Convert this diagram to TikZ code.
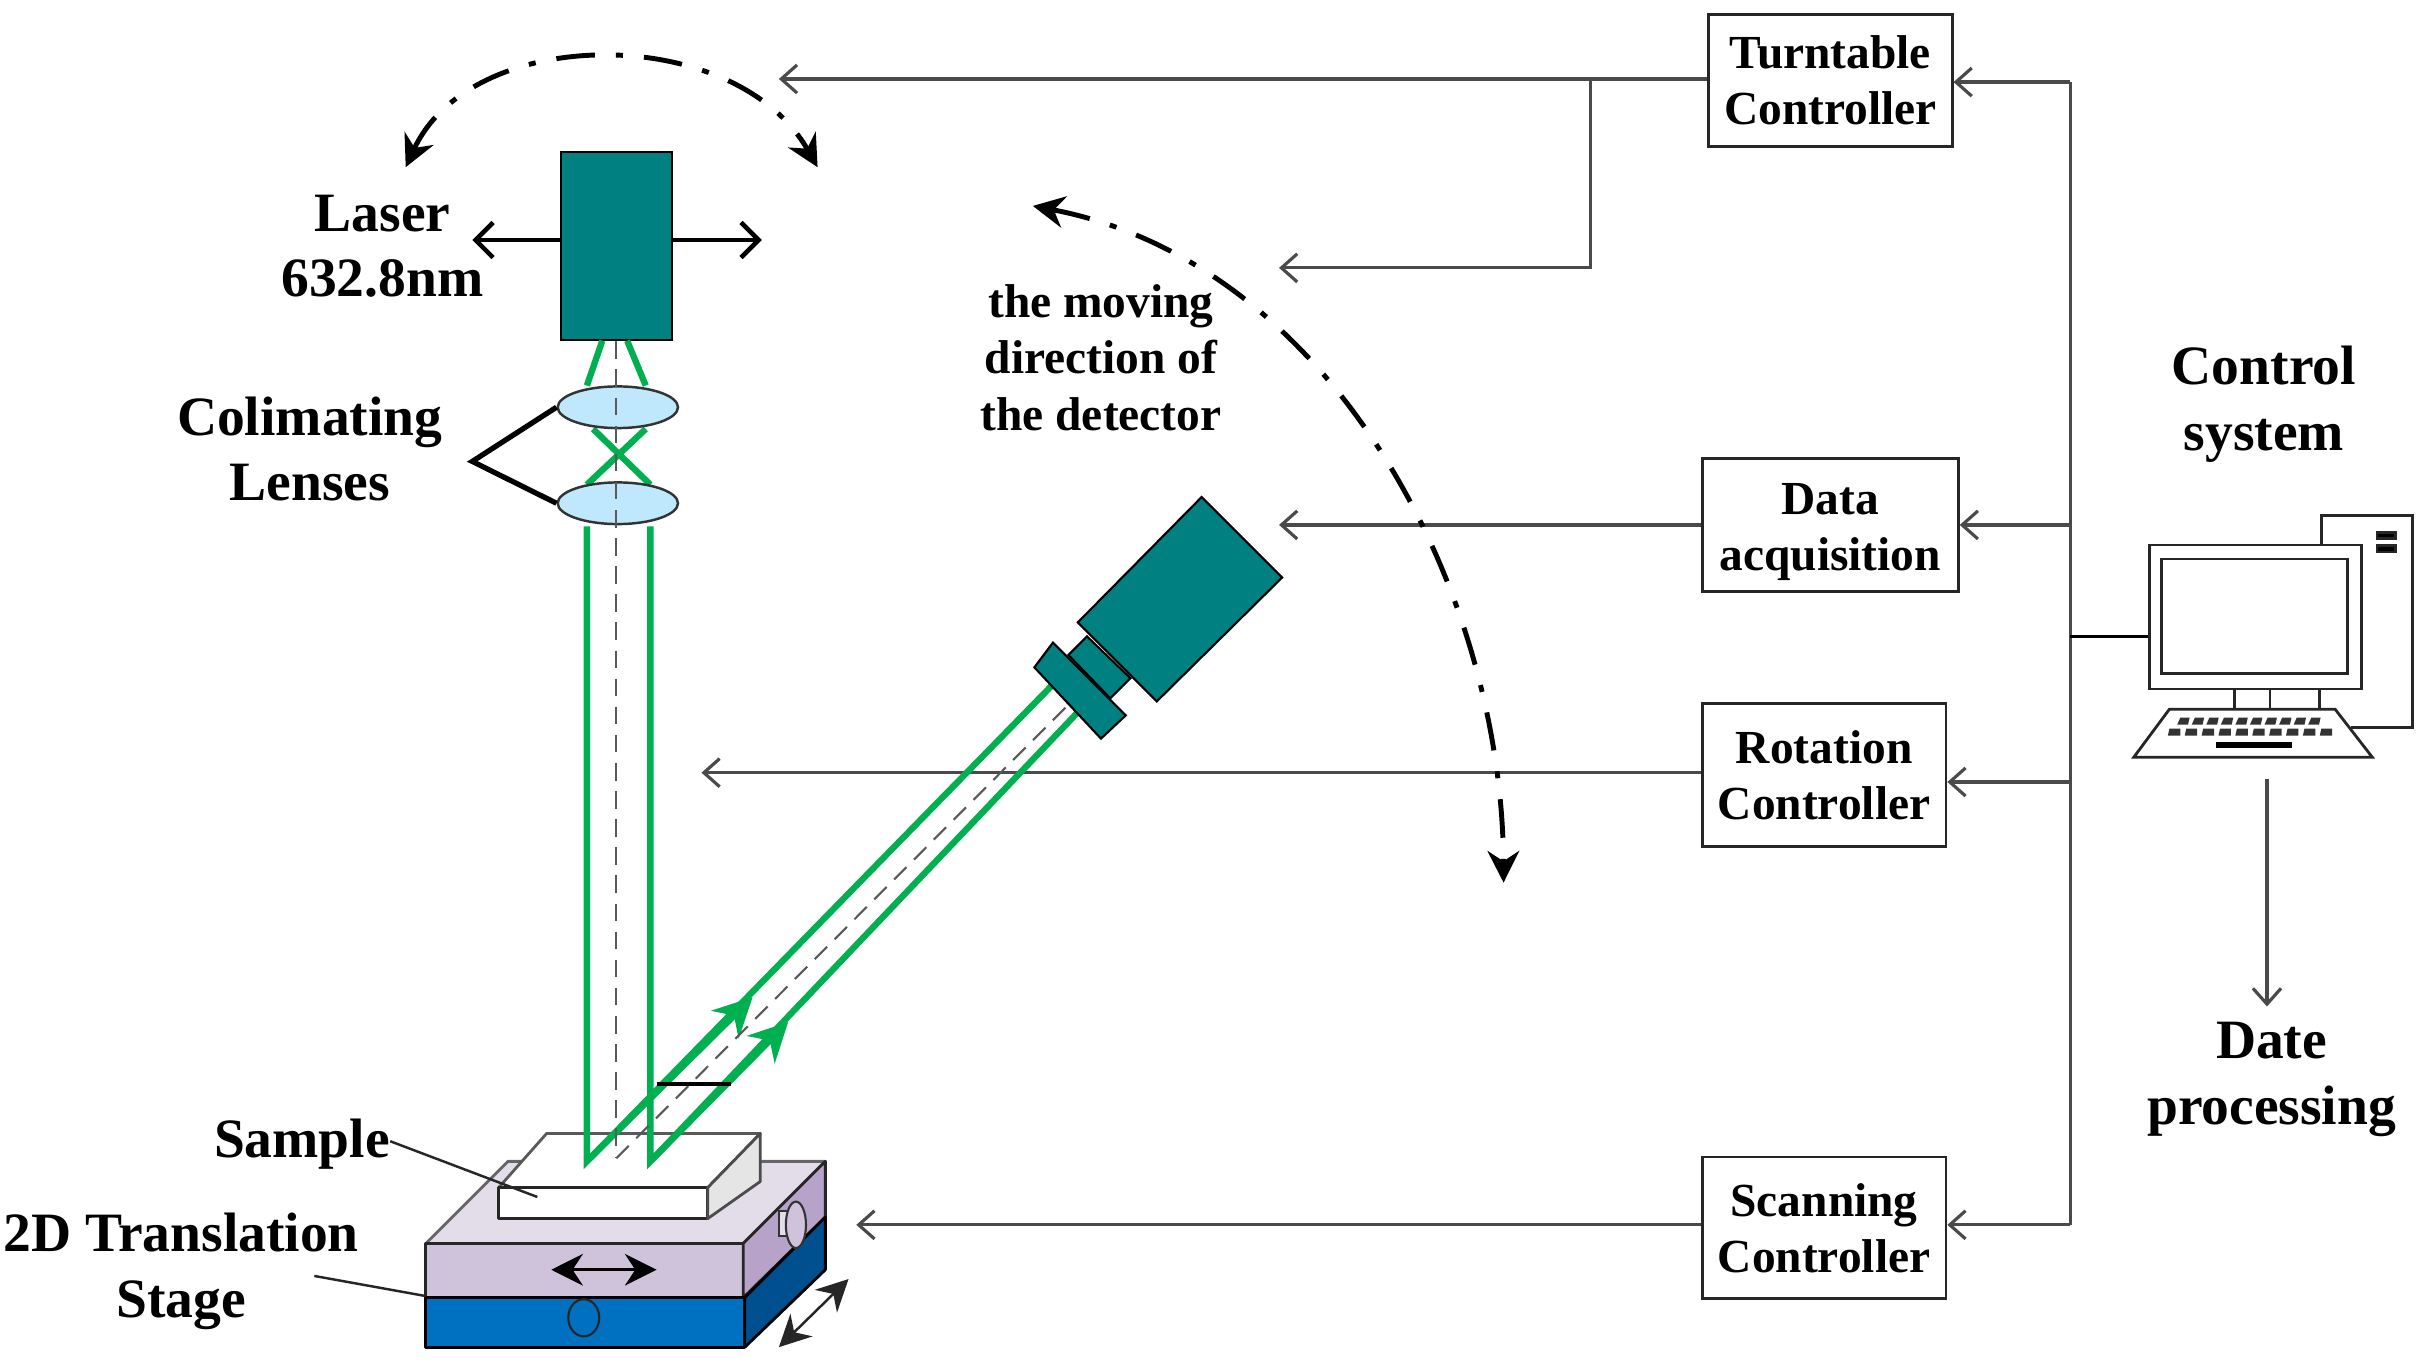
\documentclass[tikz,border=0pt]{standalone}
\usepackage{fontspec}
\setmainfont{Liberation Serif}
\usetikzlibrary{arrows.meta, shapes.geometric}
\definecolor{teal1}{HTML}{008080}
\definecolor{beam}{HTML}{00B050}
\definecolor{lens}{HTML}{BFE8FD}
\definecolor{wire}{HTML}{4A4A4A}
\definecolor{stagetop}{HTML}{E3DDEA}
\definecolor{stagefront}{HTML}{CFC3DB}
\definecolor{stageside}{HTML}{B7A3C9}
\definecolor{basefront}{HTML}{0070C0}
\definecolor{baseside}{HTML}{00508F}
\tikzset{
  ctrl/.style={draw=black!85, line width=0.8pt, fill=white, align=center, inner sep=0pt, font=\fontsize{13.5}{16}\selectfont\bfseries},
  lab/.style={align=center, inner sep=0pt, font=\fontsize{15.8}{18.6}\selectfont\bfseries},
  small/.style={align=center, inner sep=0pt, font=\fontsize{13.5}{16}\selectfont\bfseries},
  wire/.style={draw=wire, line width=0.9pt},
  sig/.style={wire, -{Straight Barb[length=4.5pt,width=8pt]}},
  green/.style={draw=beam, line width=1.8pt},
  axis/.style={draw=black!65, line width=0.6pt, dash pattern=on 5pt off 3pt},
  sweep/.style={draw=black, line width=1.4pt, dash pattern=on 11pt off 6pt on 2pt off 6pt, {Stealth[length=9pt,width=9pt]}-{Stealth[length=9pt,width=9pt]}},
  body/.style={draw=black, line width=0.6pt, fill=teal1},
  face/.style={draw=black!85, line width=0.8pt, line join=round},
  pc/.style={draw=black!85, line width=0.8pt, fill=white},
  head/.style={draw=beam, line width=1.8pt, -{Stealth[length=11pt,width=11pt]}}
}
\begin{document}
\begin{tikzpicture}[x=0.015484cm, y=-0.015484cm]
\useasboundingbox (0,0) rectangle (1568,879);

% controller boxes
\node[ctrl, minimum width=158*0.4389pt, minimum height=86*0.4389pt] (turn) at (1182,52) {Turntable\\Controller};
\node[ctrl, minimum width=166*0.4389pt, minimum height=86*0.4389pt] (data) at (1182,339) {\rule{0pt}{12.7pt}Data\\acquisition};
\node[ctrl, minimum width=158*0.4389pt, minimum height=93*0.4389pt] (rot) at (1178,500.5) {Rotation\\Controller};
\node[ctrl, minimum width=158*0.4389pt, minimum height=92*0.4389pt] (scan) at (1178,793) {Scanning\\Controller};

% bus on the right and signal lines
\coordinate (b1) at (1337,53);
\coordinate (b2) at (1337,339);
\coordinate (b3) at (1337,505);
\coordinate (b4) at (1337,791);
\coordinate (b5) at (1337,411);
\coordinate (m5) at (1390,411);
\draw[wire] (b1) -- (b4);
\draw[sig] (b1) -- (turn.east |- b1);
\draw[sig] (b2) -- (data.east |- b2);
\draw[sig] (b3) -- (rot.east |- b3);
\draw[sig] (b4) -- (scan.east |- b4);
\draw[draw=black, line width=0.8pt] (b5) -- (m5);

\coordinate (t1) at (503,51);
\coordinate (t2) at (1027,51);
\coordinate (t3) at (1027,173);
\coordinate (t4) at (826,173);
\coordinate (d1) at (826,339);
\coordinate (r1) at (453,499);
\coordinate (s1) at (553,791);
\draw[sig] (turn.west |- t1) -- (t1);
\draw[sig] (t2) -- (t3) -- (t4);
\draw[sig] (data.west) -- (d1);
\draw[sig] (rot.west |- r1) -- (r1);
\draw[sig] (scan.west |- s1) -- (s1);

% sweep directions
\draw[sweep] (262,108) .. controls (305,15) and (475,15) .. (528,108);
\draw[sweep] (667,133) .. controls (860,170) and (970,380) .. (971,570);

% stage
\filldraw[face, draw=black!60, fill=stagetop] (275,803) -- (328,750) -- (533,750) -- (480,803) -- cycle;
\filldraw[face, fill=stagefront] (275,803) rectangle (480,838);
\filldraw[face, fill=stageside] (480,803) -- (533,750) -- (533,786) -- (480,838) -- cycle;
\filldraw[face, draw=black, fill=basefront] (275,838) rectangle (481,870);
\filldraw[face, draw=black, fill=baseside] (481,838) -- (533,786) -- (533,820) -- (481,870) -- cycle;
\draw[black!85, line width=0.6pt] (377,851) ellipse (10 and 12);
\filldraw[draw=black!80, line width=0.5pt, fill=stagetop] (503,782) rectangle (510,798);
\filldraw[draw=black!80, line width=0.6pt, fill=stagefront] (514,791) ellipse (6.5 and 15);
\draw[line width=0.8pt, {Stealth[length=9pt,width=9pt]}-{Stealth[length=9pt,width=9pt]}] (356,820) -- (424,820);
\draw[black!85, line width=0.7pt, {Stealth[length=9pt,width=9pt]}-{Stealth[length=9pt,width=9pt]}] (503,870) -- (548,826);

% sample
\filldraw[face, draw=black!65, fill=white] (322,767) -- (353,732) -- (491,732) -- (457,767) -- cycle;
\filldraw[face, fill=white] (322,767) rectangle (457,787);
\filldraw[face, draw=black!70, fill=black!10] (457,767) -- (491,732) -- (491,763) -- (457,787) -- cycle;

% beams
\coordinate (v1) at (379,750);
\coordinate (v2) at (420,750);
\coordinate (v3) at (398,748);
\draw[green] (379,340) -- (v1) -- (679,443);
\draw[green] (420,340) -- (v2) -- (696,460);
\draw[head] (v1) -- (486,644);
\draw[head] (v2) -- (509,660);
\draw[axis] (v3) -- (690,455);
\draw[line width=0.9pt] (424,700) -- (472,700);

% laser
\node[body, minimum width=72*0.4389pt, minimum height=122*0.4389pt, inner sep=0pt] (laser) at (398,159) {};
\draw[green] (389,220) -- (379,249);
\draw[green] (405,220) -- (417,249);
\draw[green] (383,277) -- (420,313);
\draw[green] (417,277) -- (379,313);
\node[ellipse, draw=black!80, line width=0.7pt, fill=lens, minimum width=78*0.4389pt, minimum height=27*0.4389pt, inner sep=0pt] (l1) at (399,263) {};
\node[ellipse, draw=black!80, line width=0.7pt, fill=lens, minimum width=78*0.4389pt, minimum height=27*0.4389pt, inner sep=0pt] (l2) at (399,325) {};
\draw[axis] (laser.south) -- (v3);
\coordinate (la) at (305,155);
\coordinate (lb) at (492,155);
\coordinate (lc) at (305,298);
\draw[line width=1.3pt, -{Straight Barb[length=5pt,width=10pt]}] (laser.west |- la) -- (la);
\draw[line width=1.3pt, -{Straight Barb[length=5pt,width=10pt]}] (laser.east |- lb) -- (lb);
\draw[line width=1.5pt, line join=miter] (l1.west) -- (lc) -- (l2.west);

% detector
\filldraw[body] (680,415) -- (727,462) -- (711,477) -- (668,431) -- cycle;
\filldraw[body] (702,411) -- (730,438) -- (717,451) -- (690,423) -- cycle;
\filldraw[body] (776,321) -- (828,373) -- (747,453) -- (696,402) -- cycle;

% computer
\draw[pc] (1499,352) -- (1499,333) -- (1558,333) -- (1558,470) -- (1518,470);
\draw[pc, fill=black] (1535,344) rectangle (1547,348);
\draw[pc, fill=black] (1535,352.5) rectangle (1547,356.5);
\draw[pc] (1388,352) rectangle (1525,445);
\draw[pc] (1396,361) rectangle (1516,435);
\foreach \x in {1443,1466,1498} \draw[black!85, line width=0.8pt] (\x,445) -- (\x,458);
\filldraw[pc] (1401,458) -- (1508,458) -- (1532,489) -- (1378,489) -- cycle;
\foreach \i in {0,...,9} \fill[black!80] ({1408+9.4*\i},463.5) -- ({1414+9.4*\i},463.5) -- ({1413+9.4*\i},468) -- ({1406+9.4*\i},468) -- cycle;
\foreach \i in {0,...,9} \fill[black!80] ({1401+10.9*\i},470.5) -- ({1408+10.9*\i},470.5) -- ({1408+10.9*\i},475) -- ({1400+10.9*\i},475) -- cycle;
\fill[black] (1431,479) rectangle (1480,483);

% date arrow
\coordinate (p1) at (1464,503);
\coordinate (p2) at (1464,650);
\draw[sig] (p1) -- (p2);

% labels
\node[lab] (tlaser) at (247,159) {Laser\\632.8nm};
\node[lab] (tlens) at (200,290) {Colimating\\Lenses};
\node[small] (tmove) at (711,231) {the moving\\direction of\\the detector};
\node[lab] (tctrl) at (1462,261) {Control\\system};
\node[lab] (tdate) at (1467,697) {Date\\processing};
\node[lab] (tsample) at (195,739) {Sample};
\node[lab] (tstage) at (117,821) {2D Translation\\Stage};
\coordinate (n1) at (347,773);
\coordinate (n2) at (275,837);
\coordinate (n3) at (203,824);
\coordinate (n4) at (252,737);
\draw[black!85, line width=0.7pt] (n4) -- (n1);
\draw[black!85, line width=0.7pt] (n3) -- (n2);
\end{tikzpicture}
\end{document}
